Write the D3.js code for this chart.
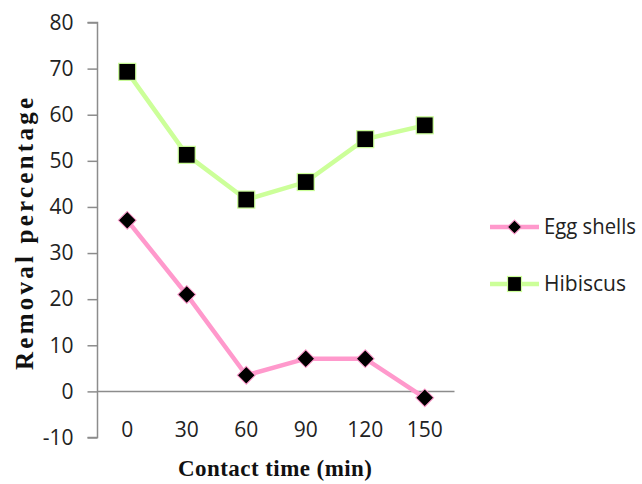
<!DOCTYPE html>
<html><head><meta charset="utf-8">
<script src="https://cdn.jsdelivr.net/npm/d3@7"></script>
<style>body{margin:0;background:#fff}svg{display:block}</style>
</head><body>
<script>
const categories = ["0","30","60","90","120","150"];
const eggShells = [37.1, 21.0, 3.5, 7.1, 7.1, -1.4];
const hibiscus = [69.3, 51.3, 41.6, 45.4, 54.7, 57.7];
const yTicks = [-10,0,10,20,30,40,50,60,70,80];
const seriesNames = ["Egg shells","Hibiscus"];

const W=642,H=484;
const svg=d3.select("body").append("svg").attr("width",W).attr("height",H);
const x=d3.scaleBand().domain(categories).range([97.5,454.5]);
const y=d3.scaleLinear().domain([-10,80]).range([437.5,22.5]);
const tickFont="'Open Sans', sans-serif";
const axisColor="#8c8c8c";

// y axis
const ya=svg.append("g").attr("transform","translate(97.5,0)")
  .call(d3.axisLeft(y).tickValues(yTicks).tickSize(10).tickPadding(14).tickFormat(d=>String(d)));
ya.select(".domain").attr("stroke",axisColor).attr("stroke-width",1.5).attr("d","M-10,"+y(-10)+"H0V"+y(80)+"H-10");
ya.selectAll(".tick line").attr("stroke",axisColor).attr("stroke-width",1.5);
ya.selectAll(".tick text").attr("font-family",tickFont).attr("font-size",21).attr("fill","#222");

// x axis at y=0
const xa=svg.append("g").attr("transform","translate(0,"+y(0)+")")
  .call(d3.axisBottom(x).tickSize(0).tickPadding(0));
xa.select(".domain").attr("stroke",axisColor).attr("stroke-width",1.5).attr("d","M97.5,0H454.5");
xa.selectAll(".tick text").attr("font-family",tickFont).attr("font-size",21).attr("fill","#222")
  .attr("y",y(-10)-y(0)-8).attr("dy","0.35em");

const line=d3.line().x((d,i)=>x(categories[i])+x.bandwidth()/2).y(d=>y(d));
const pink="#ff99cc", green="#ccff99";

svg.append("path").datum(eggShells).attr("d",line).attr("fill","none").attr("stroke",pink).attr("stroke-width",4.5);
svg.append("path").datum(hibiscus).attr("d",line).attr("fill","none").attr("stroke",green).attr("stroke-width",4.5);

svg.selectAll(".egg").data(eggShells).enter().append("path")
  .attr("d",d3.symbol().type(d3.symbolSquare).size(160)())
  .attr("transform",(d,i)=>"translate("+(x(categories[i])+x.bandwidth()/2)+","+y(d)+") rotate(45)")
  .attr("fill","#000").attr("stroke",pink).attr("stroke-width",1);
svg.selectAll(".hib").data(hibiscus).enter().append("rect")
  .attr("x",(d,i)=>x(categories[i])+x.bandwidth()/2-8.5).attr("y",d=>y(d)-8.5)
  .attr("width",17).attr("height",17)
  .attr("fill","#000").attr("stroke",green).attr("stroke-width",1.2);

// legend
const leg=[{n:seriesNames[0],c:pink,t:"d",yy:227},{n:seriesNames[1],c:green,t:"s",yy:284}];
leg.forEach(l=>{
  svg.append("line").attr("x1",490).attr("x2",539).attr("y1",l.yy).attr("y2",l.yy).attr("stroke",l.c).attr("stroke-width",4.5);
  if(l.t==="d"){
    svg.append("path").attr("d",d3.symbol().type(d3.symbolSquare).size(100)()).attr("transform","translate(514.5,"+l.yy+") rotate(45)")
      .attr("fill","#000").attr("stroke",l.c);
  } else {
    svg.append("rect").attr("x",507.5).attr("y",l.yy-7.5).attr("width",14).attr("height",15).attr("fill","#000").attr("stroke",l.c).attr("stroke-width",1.2);
  }
  svg.append("text").attr("x",544).attr("y",l.yy).attr("dy","0.35em").attr("font-family",tickFont).attr("font-size",21).attr("fill","#222")
    .attr("textLength",l.t==="d"?92:82).attr("lengthAdjust","spacingAndGlyphs").text(l.n);
});

// titles
svg.append("text").attr("x",275).attr("y",468).attr("dy","0.35em").attr("text-anchor","middle")
  .attr("font-family","'Liberation Serif', serif").attr("font-weight","bold").attr("font-size",23).attr("fill","#111")
  .attr("textLength",194).attr("lengthAdjust","spacing")
  .text("Contact time (min)");
svg.append("text").attr("transform","translate(24,234) rotate(-90)").attr("dy","0.35em").attr("text-anchor","middle")
  .attr("font-family","'Liberation Serif', serif").attr("font-weight","bold").attr("font-size",25).attr("fill","#111")
  .attr("textLength",272).attr("lengthAdjust","spacing")
  .text("Removal percentage");
</script>
</body></html>
